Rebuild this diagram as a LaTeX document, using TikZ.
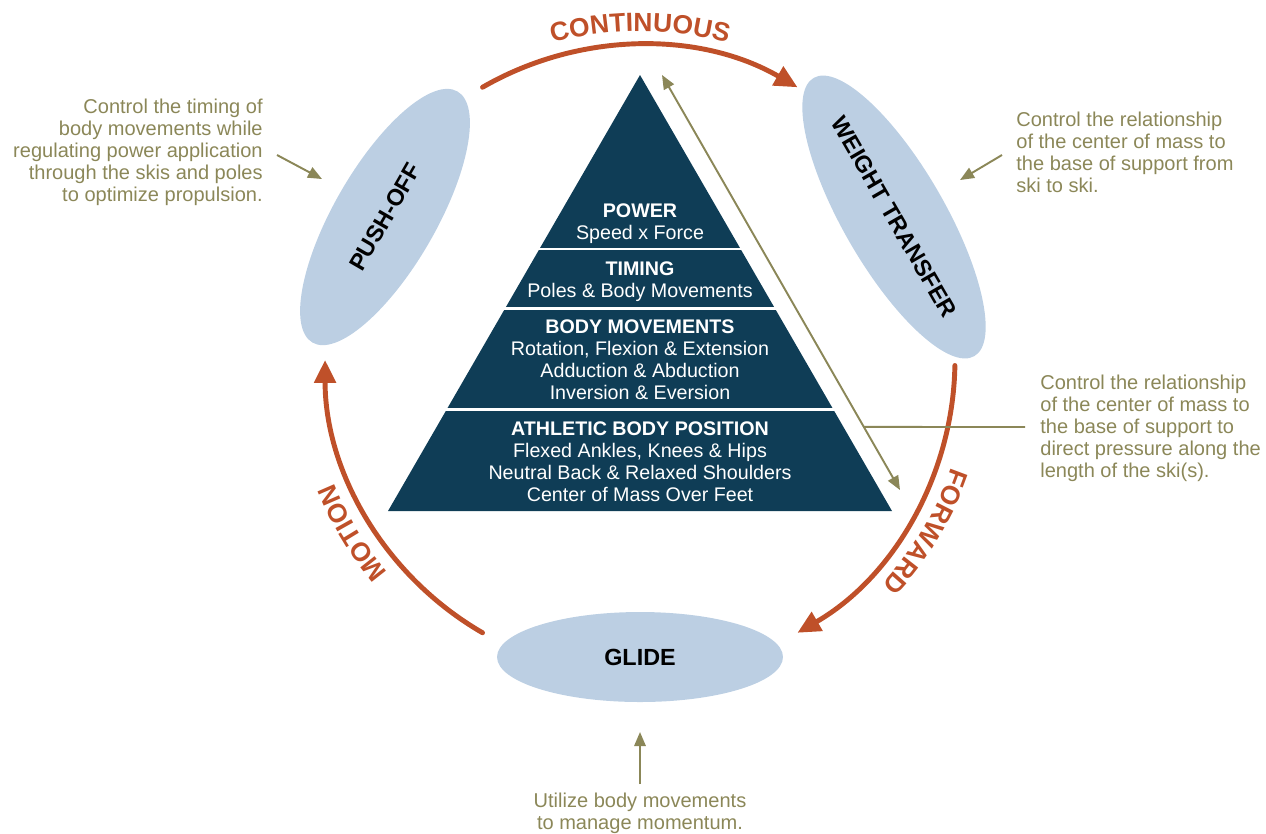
\documentclass[tikz,border=0pt]{standalone}
\usepackage{fontspec}
\setmainfont{Liberation Sans}
\usepackage{tikz}
\usetikzlibrary{arrows.meta}
\usetikzlibrary{calc}
\usetikzlibrary{shapes.geometric}
\usetikzlibrary{decorations.text}
\definecolor{rustred}{HTML}{BF5029}
\definecolor{notegold}{HTML}{8B8758}
\definecolor{pyrblue}{HTML}{0F3D56}
\definecolor{skyfill}{HTML}{BCCFE3}
\newcommand{\arcfont}{\fontsize{15}{15}\selectfont\bfseries\color{rustred}}
\tikzset{stage/.style={ellipse, fill=skyfill, text=black, inner sep=0pt, font=\fontsize{13.3}{14}\selectfont\bfseries}}
\tikzset{note/.style={text=notegold, inner sep=0pt, font=\fontsize{11.4}{12.5}\selectfont}}
\tikzset{tier/.style={text=white, align=center, inner sep=0pt, font=\fontsize{11.2}{12.5}\selectfont}}
\tikzset{loop/.style={rustred, line width=2.8pt, line cap=round, -{Triangle[length=13pt,width=12pt]}}}
\tikzset{pointer/.style={notegold, line width=1.1pt, -{Triangle[length=8pt,width=6.5pt]}}}
\tikzset{arclabel/.style={decorate, decoration={text along path, text align=center, text={|\arcfont|#1}}}}

\begin{document}
\begin{tikzpicture}[x=0.02cm,y=0.02cm]
\useasboundingbox (0,0) rectangle (1266,-833);
\coordinate (hub) at (640,-360);
\coordinate (apex) at (640,-75);
\coordinate (bl) at (388,-511);
\coordinate (br) at (892,-511);

\fill[pyrblue] (apex) -- (bl) -- (br) -- cycle;
\foreach \f in {0.399,0.5356,0.767}
  \draw[white, line width=1.6pt] ($(apex)!\f!(bl)+(-3,0)$) -- ($(apex)!\f!(br)+(3,0)$);

\node[tier] (power) at (640,-224) {\textbf{POWER}\\Speed x Force};
\node[tier] (timing) at (640,-282) {\textbf{TIMING}\\Poles \& Body Movements};
\node[tier] (moves) at (640,-360) {\textbf{BODY MOVEMENTS}\\Rotation, Flexion \& Extension\\Adduction \& Abduction\\Inversion \& Eversion};
\node[tier] (stance) at (640,-462) {\textbf{ATHLETIC BODY POSITION}\\Flexed Ankles, Knees \& Hips\\Neutral Back \& Relaxed Shoulders\\Center of Mass Over Feet};

\node[stage, minimum width=5.8cm, minimum height=2.04cm, rotate=60] (push) at (385,-217) {PUSH-OFF};
\node[stage, minimum width=5.8cm, minimum height=2.04cm, rotate=-60] (shift) at (894,-217) {WEIGHT TRANSFER};
\node[stage, minimum width=5.72cm, minimum height=1.8cm] (glide) at (640,-657) {GLIDE};

\draw[loop] (hub) ++(120:6.3cm) arc[start angle=120, end angle=60, radius=6.3cm];
\draw[loop] (hub) ++(-1:6.3cm) arc[start angle=-1, end angle=-60, radius=6.3cm];
\draw[loop] (hub) ++(240:6.3cm) arc[start angle=240, end angle=180, radius=6.3cm];

\path[arclabel=CONTINUOUS] (hub) ++(130:6.58cm) arc[start angle=130, end angle=50, radius=6.58cm];
\path[arclabel=FORWARD] (hub) ++(9:6.6cm) arc[start angle=9, end angle=-71, radius=6.6cm];
\path[arclabel=MOTION] (hub) ++(251:6.6cm) arc[start angle=251, end angle=171, radius=6.6cm];

\node[note, align=right, anchor=east] (npush) at (263,-152) {Control the timing of\\body movements while\\regulating power application\\through the skis and poles\\to optimize propulsion.};
\node[note, align=left, anchor=west] (nshift) at (1016,-152) {Control the relationship\\of the center of mass to\\the base of support from\\ski to ski.};
\node[note, align=left, anchor=west] (nfwd) at (1040,-428) {Control the relationship\\of the center of mass to\\the base of support to\\direct pressure along the\\length of the ski(s).};
\node[note, align=center] (nglide) at (640,-813) {Utilize body movements\\to manage momentum.};

\coordinate (a1) at (277,-155);
\coordinate (a2) at (322,-179);
\coordinate (b1) at (1002,-155);
\coordinate (b2) at (960,-180);
\coordinate (c1) at (640,-784);
\coordinate (c2) at (640,-732);
\coordinate (top) at (662,-75);
\coordinate (bot) at (900,-490);
\coordinate (meet) at ($(top)!0.848!(bot)$);
\coordinate (d1) at (1025,-427);

\draw[pointer] (a1) -- (a2);
\draw[pointer] (b1) -- (b2);
\draw[pointer] (c1) -- (c2);
\draw[pointer, {Triangle[length=8pt,width=6.5pt]}-{Triangle[length=8pt,width=6.5pt]}] (top) -- (bot);
\draw[notegold, line width=1.1pt] (meet) -- (d1);
\end{tikzpicture}
\end{document}
